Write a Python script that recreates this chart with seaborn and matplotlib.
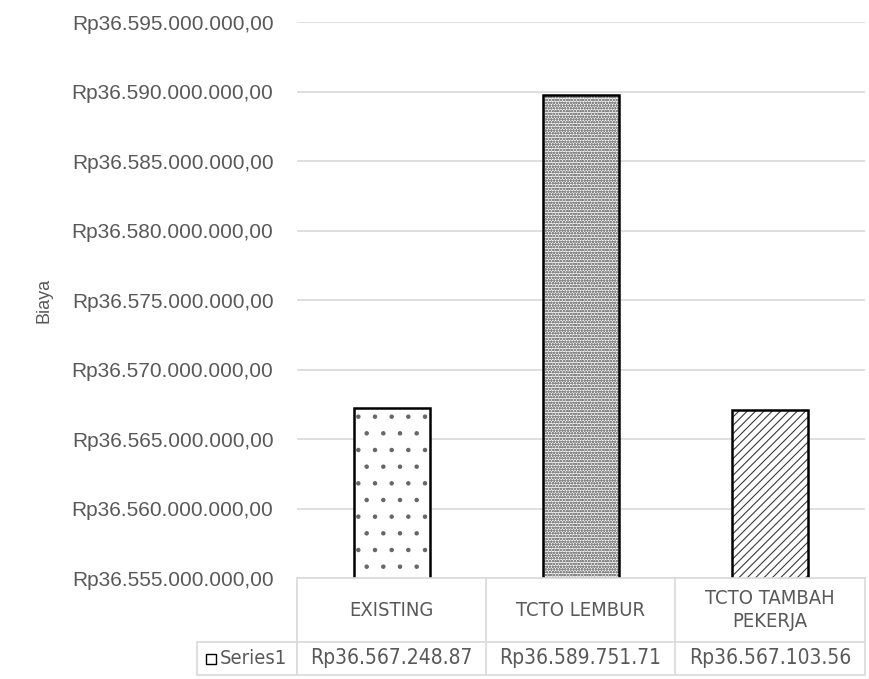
import matplotlib
matplotlib.use("Agg")
import matplotlib.pyplot as plt
from matplotlib.lines import Line2D
from matplotlib.patches import Rectangle
from matplotlib.ticker import FuncFormatter
import seaborn as sns
import pandas as pd

# Biaya per skenario (Rupiah)
categories = ["EXISTING", "TCTO LEMBUR", "TCTO TAMBAH\nPEKERJA"]
costs = [36567248870, 36589751710, 36567103560]
series_name = "Series1"
hatches = [".", "oooooo", "////"]
hatch_colors = ["#666666", "#8a8a8a", "#3a3a3a"]

y_min, y_max, y_step = 36555000000, 36595000000, 5000000

W, H = 869, 679
sns.set_theme(style="white")
plt.rcParams["font.family"] = ["Liberation Sans", "DejaVu Sans"]
plt.rcParams["hatch.linewidth"] = 0.8

fig = plt.figure(figsize=(W / 100, H / 100), dpi=100)
left, right, top, bottom = 297, 865, 22, 578
ax = fig.add_axes([left / W, 1 - bottom / H, (right - left) / W, (bottom - top) / H])

df = pd.DataFrame({"Kategori": categories, "Biaya": costs})
sns.barplot(data=df, x="Kategori", y="Biaya", ax=ax, color="white",
            width=0.4, edgecolor="black", linewidth=1.6, zorder=3)
bars = list(ax.patches)
for bar, h, hc in zip(bars, hatches, hatch_colors):
    bar.set_hatch(h)
    bar.set_facecolor("white")
    bar.set_edgecolor(hc)
    bar.set_linewidth(0)
    # black outline drawn over the hatched fill
    ax.add_patch(Rectangle((bar.get_x(), bar.get_y()), bar.get_width(), bar.get_height(),
                           fill=False, edgecolor="black", linewidth=1.8, zorder=4))

ax.set_ylim(y_min, y_max)
ax.set_yticks(range(y_min, y_max + 1, y_step))
gray = "#595959"


def rp(v, _pos=None):
    s = f"{v:,.2f}".replace(",", "X").replace(".", ",").replace("X", ".")
    return "Rp" + s


ax.yaxis.set_major_formatter(FuncFormatter(rp))
ax.tick_params(axis="y", length=0, labelsize=15, labelcolor=gray, pad=17)
ax.set_xticks([])
ax.set_xlabel("")
ax.set_ylabel("Biaya", fontsize=13, color=gray, labelpad=0)
ax.yaxis.set_label_coords(-245 / (right - left), 0.5)
ax.grid(axis="y", color="#d9d9d9", linewidth=1.2, zorder=0)
ax.grid(axis="x", visible=False)
for s in ax.spines.values():
    s.set_visible(False)

# data table below the plot
line_c = "#d9d9d9"
col_x = [297, 486, 675, 865]
row_y = [578, 642, 675]
key_left = 197


def fx(px):
    return px / W


def fy(py):
    return 1 - py / H


def hline(y, x0, x1):
    fig.add_artist(Line2D([fx(x0), fx(x1)], [fy(y), fy(y)], color=line_c, lw=1.2))


def vline(x, y0, y1):
    fig.add_artist(Line2D([fx(x), fx(x)], [fy(y0), fy(y1)], color=line_c, lw=1.2))


hline(row_y[0], col_x[0], col_x[-1])
hline(row_y[1], key_left, col_x[-1])
hline(row_y[2], key_left, col_x[-1])
for x in col_x:
    vline(x, row_y[0], row_y[2])
vline(key_left, row_y[1], row_y[2])

narrow = dict(family="DejaVu Sans", stretch="condensed")
for i, (cat, val) in enumerate(zip(categories, costs)):
    cx = (col_x[i] + col_x[i + 1]) / 2
    fig.text(fx(cx), fy((row_y[0] + row_y[1]) / 2), cat, ha="center", va="center",
             fontsize=14.5, color=gray, linespacing=1.25, **narrow)
    label = "Rp" + f"{val / 1000:,.2f}".replace(",", ".")
    fig.text(fx(cx), fy((row_y[1] + row_y[2]) / 2), label, ha="center", va="center",
             fontsize=15, color=gray, **narrow)

# legend key cell
ky = (row_y[1] + row_y[2]) / 2
fig.add_artist(Rectangle((fx(206), fy(ky + 5)), 10 / W, 10 / H, facecolor="white",
                         edgecolor="black", lw=1.0))
fig.text(fx(220), fy(ky), series_name, ha="left", va="center",
         fontsize=14.5, color=gray, **narrow)

fig.savefig("out.png", dpi=100)
